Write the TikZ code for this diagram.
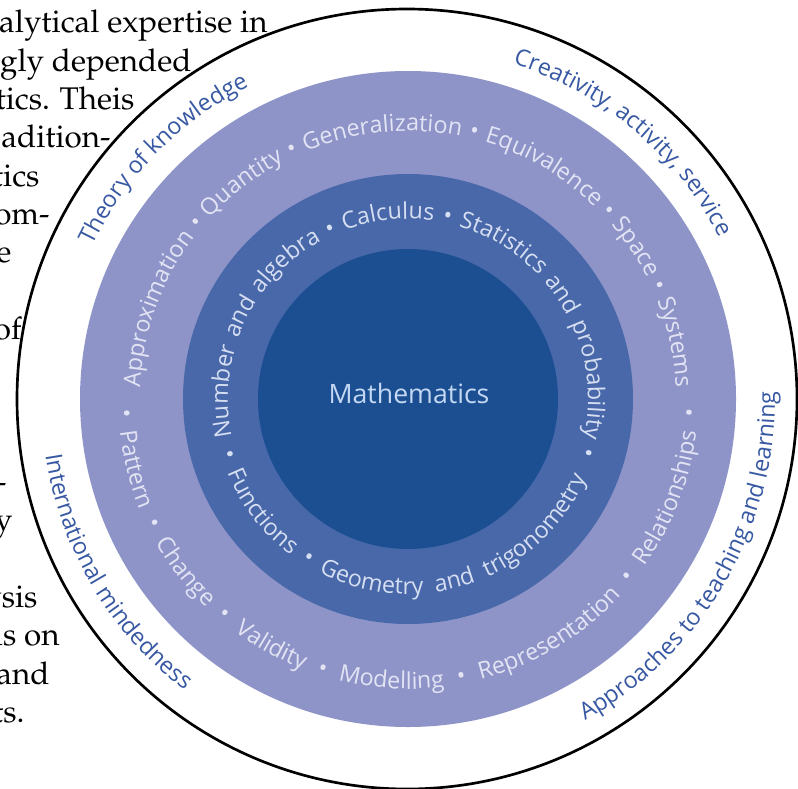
\documentclass[tikz,border=0pt]{standalone}
\usepackage[T1]{fontenc}
\usepackage{fontspec}
\newfontfamily\ringfont{Open Sans}
\usetikzlibrary{decorations.text}

\definecolor{ringlight}{RGB}{142,148,200}
\definecolor{ringmid}{RGB}{72,104,170}
\definecolor{ringcore}{RGB}{27,79,146}
\definecolor{outertxt}{RGB}{55,88,162}
\definecolor{lighttxt}{RGB}{226,228,244}
\definecolor{midtxt}{RGB}{214,222,242}
\definecolor{coretxt}{RGB}{196,216,244}

\newcommand\pagefont{\fontencoding{T1}\fontfamily{ppl}\fontsize{23.5}{28}\selectfont}
\newcommand\lighttext{\ringfont\fontsize{17.5}{20}\selectfont\color{lighttxt}}
\newcommand\midtext{\ringfont\fontsize{17.5}{20}\selectfont\color{midtxt}}
\newcommand\outertext{\ringfont\fontsize{17.5}{20}\selectfont\color{outertxt}}

\tikzset{every picture/.style={line width=0.75pt}}

\begin{document}
\begin{tikzpicture}[x=0.75pt,y=0.75pt,yscale=-1,xscale=1,
  lineword/.style={anchor=base east, inner sep=0pt, font=\pagefont},
  alongarc/.style 2 args={decorate, decoration={text along path, text align={#1}, text={#2}}}]
	\useasboundingbox (0,0) rectangle (798,788);
	\clip (0,0) rectangle (798,788);
	\coordinate (c) at (408,399);

	% Text Node
	\node[lineword] (w1) at (268,33) {alytical expertise in};
	% Text Node
	\node[lineword] (w2) at (192,71.3) {gly depended};
	% Text Node
	\node[lineword] (w3) at (135,109.6) {tics. Theis};
	% Text Node
	\node[lineword] (w4) at (111,147.9) {adition-};
	% Text Node
	\node[lineword] (w5) at (40,186.2) {tics};
	% Text Node
	\node[lineword] (w6) at (50,224.5) {om-};
	% Text Node
	\node[lineword] (w7) at (12,262.8) {e};
	% Text Node
	\node[lineword] (w9) at (22,339.4) {of};
	% Text Node
	\node[lineword] (w13) at (7,492.6) {-};
	% Text Node
	\node[lineword] (w14) at (13,530.9) {y};
	% Text Node
	\node[lineword] (w16) at (38,607.5) {ysis};
	% Text Node
	\node[lineword] (w17) at (60,645.8) {is on};
	% Text Node
	\node[lineword] (w18) at (50,684.1) {and};
	% Text Node
	\node[lineword] (w19) at (25,722.4) {ts.};

	%Shape: Circle
	\draw [line width=2pt, fill=white] (407,399) circle [radius=390];
	%Shape: Circle
	\fill [ringlight] (c) circle [radius=328];
	%Shape: Circle
	\fill [ringmid] (c) circle [radius=225];
	%Shape: Circle
	\fill [ringcore] (c) circle [radius=150];

	\begin{scope}[shift={(c)}, yscale=-1]
	% Curved Text
	\path [alongarc={fit to path stretching spaces}{|\lighttext|Approximation {\textbullet} Quantity {\textbullet} Generalization {\textbullet} Equivalence {\textbullet} Space {\textbullet} Systems}] (177.5:268) arc [start angle=177.5, end angle=2.5, radius=268];
	% Curved Text
	\path [alongarc={fit to path stretching spaces}{|\lighttext|{\textbullet} Pattern {\textbullet} Change {\textbullet} Validity {\textbullet} Modelling {\textbullet} Representation {\textbullet} Relationships {\textbullet}}] (182:290) arc [start angle=182, end angle=358, radius=290];
	% Curved Text
	\path [alongarc={fit to path stretching spaces}{|\midtext|Number and algebra {\textbullet} Calculus {\textbullet} Statistics and probability {\textbullet}}] (192:180) arc [start angle=192, end angle=-18, radius=180];
	% Curved Text
	\path [alongarc={fit to path stretching spaces}{|\midtext|{\textbullet} Functions {\textbullet} Geometry and trigonometry}] (196:195) arc [start angle=196, end angle=336, radius=195];
	% Curved Text
	\path [alongarc={center}{|\outertext|Theory of knowledge}] (165.5:351) arc [start angle=165.5, end angle=105.5, radius=351];
	% Curved Text
	\path [alongarc={center}{|\outertext|Creativity, activity, service}] (80:351) arc [start angle=80, end angle=20, radius=351];
	% Curved Text
	\path [alongarc={center}{|\outertext|International mindedness}] (180.7:367) arc [start angle=180.7, end angle=240.7, radius=367];
	% Curved Text
	\path [alongarc={center}{|\outertext|Approaches to teaching and learning}] (295:367) arc [start angle=295, end angle=365, radius=367];
	\end{scope}

	% Text Node
	\node [font=\ringfont\fontsize{20}{24}\selectfont, text=coretxt] (math) at (409,393) {Mathematics};
\end{tikzpicture}
\end{document}
